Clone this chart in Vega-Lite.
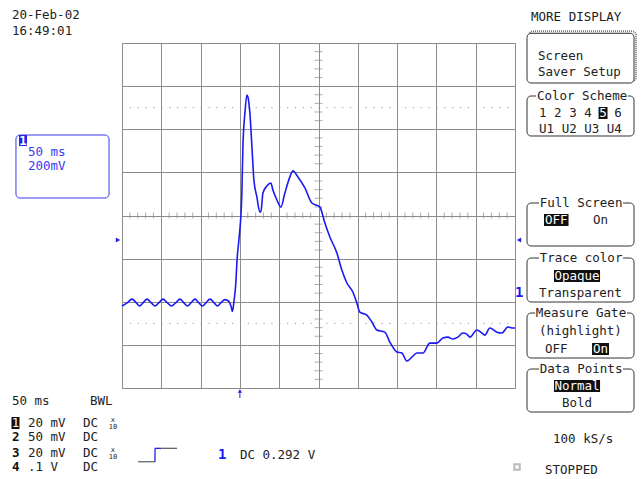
{
  "$schema": "https://vega.github.io/schema/vega-lite/v6.json",
  "width": 393,
  "height": 345,
  "autosize": {"type": "none"},
  "padding": {"left": 122, "top": 43, "right": 126, "bottom": 91},
  "background": "white",
  "config": {
    "view": {"stroke": null},
    "text": {"font": "DejaVu Sans Mono", "fontSize": 12.5, "fill": "#222", "baseline": "middle"}
  },
  "datasets": {
    "trace": [
      {"x": -150, "y": -420}, {"x": -143, "y": -404}, {"x": -137.3, "y": -388}, {"x": -132, "y": -404},
      {"x": -127.7, "y": -420}, {"x": -123, "y": -404}, {"x": -118.2, "y": -388}, {"x": -113, "y": -404},
      {"x": -108, "y": -420}, {"x": -103, "y": -404}, {"x": -97.8, "y": -388}, {"x": -92.5, "y": -404},
      {"x": -87, "y": -420}, {"x": -81.5, "y": -404}, {"x": -76.2, "y": -388}, {"x": -71.5, "y": -404},
      {"x": -66.6, "y": -420}, {"x": -62, "y": -404}, {"x": -57.1, "y": -388}, {"x": -52.5, "y": -404},
      {"x": -47.5, "y": -420}, {"x": -43, "y": -404}, {"x": -38, "y": -388}, {"x": -33, "y": -404},
      {"x": -28.5, "y": -420}, {"x": -24, "y": -404}, {"x": -19, "y": -390}, {"x": -14, "y": -398},
      {"x": -11, "y": -425}, {"x": -9.5, "y": -445}, {"x": -7.6, "y": -400}, {"x": -5.1, "y": -309},
      {"x": -3.8, "y": -216}, {"x": -1.3, "y": -114}, {"x": 1.3, "y": 2}, {"x": 2.5, "y": 104},
      {"x": 3.8, "y": 318}, {"x": 6.4, "y": 476}, {"x": 8.9, "y": 559}, {"x": 10.2, "y": 550},
      {"x": 12.7, "y": 476}, {"x": 15.3, "y": 318}, {"x": 17.8, "y": 165}, {"x": 21.6, "y": 86},
      {"x": 25.4, "y": 16}, {"x": 26.7, "y": 16}, {"x": 29.3, "y": 104}, {"x": 34.3, "y": 137},
      {"x": 39.4, "y": 151}, {"x": 42, "y": 118}, {"x": 47.1, "y": 72}, {"x": 52.2, "y": 39},
      {"x": 57.2, "y": 104}, {"x": 63.6, "y": 179}, {"x": 67.4, "y": 207}, {"x": 73.8, "y": 179},
      {"x": 82.7, "y": 128}, {"x": 91.6, "y": 58}, {"x": 101.8, "y": 39}, {"x": 108.1, "y": -35},
      {"x": 114.5, "y": -100}, {"x": 123.4, "y": -174}, {"x": 129.7, "y": -253}, {"x": 136.1, "y": -313},
      {"x": 143.7, "y": -355}, {"x": 148.8, "y": -406}, {"x": 152.6, "y": -448}, {"x": 161.5, "y": -462},
      {"x": 167.9, "y": -494}, {"x": 174.3, "y": -531}, {"x": 184.4, "y": -541}, {"x": 190.8, "y": -587},
      {"x": 199.7, "y": -633}, {"x": 206.1, "y": -638}, {"x": 212.4, "y": -675}, {"x": 218.8, "y": -657},
      {"x": 225.1, "y": -638}, {"x": 232.8, "y": -638}, {"x": 241.7, "y": -592}, {"x": 250.6, "y": -592},
      {"x": 258.2, "y": -568}, {"x": 264.6, "y": -564}, {"x": 270.9, "y": -573}, {"x": 277.3, "y": -564},
      {"x": 283.7, "y": -545}, {"x": 288.7, "y": -550}, {"x": 292.6, "y": -564}, {"x": 301.5, "y": -531},
      {"x": 307.8, "y": -545}, {"x": 311.6, "y": -555}, {"x": 318, "y": -522}, {"x": 326.9, "y": -541},
      {"x": 333.3, "y": -545}, {"x": 340.9, "y": -517}, {"x": 347.3, "y": -522}, {"x": 350, "y": -522}
    ],
    "ticksX": [
      {"x": -140, "y": 0}, {"x": -130, "y": 0}, {"x": -120, "y": 0}, {"x": -110, "y": 0},
      {"x": -90, "y": 0}, {"x": -80, "y": 0}, {"x": -70, "y": 0}, {"x": -60, "y": 0},
      {"x": -40, "y": 0}, {"x": -30, "y": 0}, {"x": -20, "y": 0}, {"x": -10, "y": 0},
      {"x": 10, "y": 0}, {"x": 20, "y": 0}, {"x": 30, "y": 0}, {"x": 40, "y": 0},
      {"x": 60, "y": 0}, {"x": 70, "y": 0}, {"x": 80, "y": 0}, {"x": 90, "y": 0},
      {"x": 110, "y": 0}, {"x": 120, "y": 0}, {"x": 130, "y": 0}, {"x": 140, "y": 0},
      {"x": 160, "y": 0}, {"x": 170, "y": 0}, {"x": 180, "y": 0}, {"x": 190, "y": 0},
      {"x": 210, "y": 0}, {"x": 220, "y": 0}, {"x": 230, "y": 0}, {"x": 240, "y": 0},
      {"x": 260, "y": 0}, {"x": 270, "y": 0}, {"x": 280, "y": 0}, {"x": 290, "y": 0},
      {"x": 310, "y": 0}, {"x": 320, "y": 0}, {"x": 330, "y": 0}, {"x": 340, "y": 0}
    ],
    "ticksY": [
      {"x": 100, "y": -760}, {"x": 100, "y": -720}, {"x": 100, "y": -680}, {"x": 100, "y": -640},
      {"x": 100, "y": -560}, {"x": 100, "y": -520}, {"x": 100, "y": -480}, {"x": 100, "y": -440},
      {"x": 100, "y": -360}, {"x": 100, "y": -320}, {"x": 100, "y": -280}, {"x": 100, "y": -240},
      {"x": 100, "y": -160}, {"x": 100, "y": -120}, {"x": 100, "y": -80}, {"x": 100, "y": -40},
      {"x": 100, "y": 40}, {"x": 100, "y": 80}, {"x": 100, "y": 120}, {"x": 100, "y": 160},
      {"x": 100, "y": 240}, {"x": 100, "y": 280}, {"x": 100, "y": 320}, {"x": 100, "y": 360},
      {"x": 100, "y": 440}, {"x": 100, "y": 480}, {"x": 100, "y": 520}, {"x": 100, "y": 560},
      {"x": 100, "y": 640}, {"x": 100, "y": 680}, {"x": 100, "y": 720}, {"x": 100, "y": 760}
    ],
    "dotted": [
      {"x": -150, "x2": 350, "y": 500},
      {"x": -150, "x2": 350, "y": -500}
    ],
    "shadow": [{"x": 367.8, "x2": 503.9, "y": 854.3, "y2": 623.8}],
    "boxes": [
      {"x": 365.3, "x2": 501.4, "y": 845, "y2": 614.5},
      {"x": 365.3, "x2": 501.4, "y": 554.2, "y2": 368.7},
      {"x": 365.3, "x2": 501.4, "y": 57.9, "y2": -141.5},
      {"x": 365.3, "x2": 501.4, "y": -197.2, "y2": -401.2},
      {"x": 365.3, "x2": 501.4, "y": -452.3, "y2": -661.0},
      {"x": 365.3, "x2": 501.4, "y": -712.0, "y2": -911.4}
    ],
    "lblBg": [
      {"x": 376.7, "x2": 493.8, "y": 568, "y2": 540},
      {"x": 380.6, "x2": 487.4, "y": 72, "y2": 44},
      {"x": 380.6, "x2": 487.4, "y": -183, "y2": -211},
      {"x": 375.5, "x2": 492.5, "y": -438, "y2": -466},
      {"x": 380.6, "x2": 487.4, "y": -698, "y2": -726}
    ],
    "chBox": [{"x": -284.9, "x2": -166.5, "y": 373.3, "y2": 81.1}],
    "blueBg": [{"x": -281.0, "x2": -270.9, "y": 373.3, "y2": 322.3}],
    "invBg": [
      {"x": 456.3, "x2": 467.7, "y": 503.2, "y2": 447.5},
      {"x": 386.9, "x2": 418.1, "y": 6.9, "y2": -48.8},
      {"x": 399.6, "x2": 458.2, "y": -252.8, "y2": -308.5},
      {"x": 448.0, "x2": 469.6, "y": -591.4, "y2": -647.1},
      {"x": 399.6, "x2": 458.2, "y": -763.0, "y2": -818.7},
      {"x": -290.6, "x2": -280.4, "y": -934.6, "y2": -990.3}
    ],
    "invTxt": [
      {"x": 462.0, "y": 475.3, "text": "5"},
      {"x": 402.6, "y": -20.9, "text": "OFF"},
      {"x": 428.9, "y": -280.7, "text": "Opaque"},
      {"x": 458.8, "y": -619.2, "text": "On"},
      {"x": 428.9, "y": -790.8, "text": "Normal"},
      {"x": -285.5, "y": -962.4, "text": "1"}
    ],
    "lbl": [
      {"x": 435.3, "y": 554.2, "text": "Color Scheme"},
      {"x": 434.0, "y": 57.9, "text": "Full Screen"},
      {"x": 434.0, "y": -197.2, "text": "Trace color"},
      {"x": 434.0, "y": -452.3, "text": "Measure Gate"},
      {"x": 434.0, "y": -712.0, "text": "Data Points"}
    ],
    "txtL": [
      {"x": -290, "y": 929.9, "text": "20-Feb-02"},
      {"x": -290, "y": 855.7, "text": "16:49:01"},
      {"x": 370.4, "y": 920.6, "text": "MORE DISPLAY"},
      {"x": 379.3, "y": 739.7, "text": "Screen"},
      {"x": 379.3, "y": 665.5, "text": "Saver Setup"},
      {"x": 380.6, "y": 475.3, "text": "1 2 3 4"},
      {"x": 476.4, "y": 475.3, "text": "6"},
      {"x": 380.6, "y": 401.1, "text": "U1 U2 U3 U4"},
      {"x": 449.3, "y": -20.9, "text": "On"},
      {"x": 388.2, "y": -619.2, "text": "OFF"},
      {"x": 398.4, "y": -1036.6, "text": "100 kS/s"},
      {"x": 388.2, "y": -1180.4, "text": "STOPPED"},
      {"x": -290, "y": -860.4, "text": "50 ms"},
      {"x": -190.7, "y": -860.4, "text": "BWL"},
      {"x": -269.6, "y": -962.4, "text": "20 mV"},
      {"x": -269.6, "y": -1027.4, "text": "50 mV"},
      {"x": -269.6, "y": -1101.6, "text": "20 mV"},
      {"x": -269.6, "y": -1166.5, "text": ".1  V"},
      {"x": -199.6, "y": -962.4, "text": "DC"},
      {"x": -199.6, "y": -1027.4, "text": "DC"},
      {"x": -199.6, "y": -1101.6, "text": "DC"},
      {"x": -199.6, "y": -1166.5, "text": "DC"},
      {"x": 0, "y": -1110.9, "text": "DC 0.292 V"}
    ],
    "txtC": [
      {"x": 433.3, "y": -359.5, "text": "Transparent"},
      {"x": 433.3, "y": -535.7, "text": "(highlight)"},
      {"x": 428.9, "y": -869.7, "text": "Bold"}
    ],
    "txtBold": [
      {"x": -290, "y": -1027.4, "text": "2"},
      {"x": -290, "y": -1101.6, "text": "3"},
      {"x": -290, "y": -1166.5, "text": "4"}
    ],
    "tiny": [
      {"x": -161.5, "y": -946.2, "text": "x"},
      {"x": -161.5, "y": -981.0, "text": "10"},
      {"x": -161.5, "y": -1085.3, "text": "x"},
      {"x": -161.5, "y": -1120.1, "text": "10"}
    ],
    "blueTxt": [
      {"x": -269.6, "y": 294.5, "text": "50 ms"},
      {"x": -269.6, "y": 229.5, "text": "200mV"}
    ],
    "blueBold": [
      {"x": -27.9, "y": -1110.9, "text": "1"},
      {"x": 350, "y": -359.5, "text": "1"}
    ],
    "blueWhite": [{"x": -276, "y": 347.8, "text": "1"}],
    "triR": [{"x": -155.1, "y": -113.7}],
    "triL": [{"x": 355.1, "y": -113.7}],
    "trigArrow": [{"x": 0, "y": -846.5, "y2": -812}],
    "trigHead": [{"x": 0, "y": -814}],
    "stepGray": [
      {"x": -129.6, "x2": -108.0, "y": -1142.0, "y2": -1142.0},
      {"x": -100.0, "x2": -80.0, "y": -1079.8, "y2": -1079.8}
    ],
    "stepBlue": [
      {"x": -108.0, "x2": -108.0, "y": -1142.0, "y2": -1079.8},
      {"x": -108.0, "x2": -100.0, "y": -1079.8, "y2": -1079.8}
    ],
    "square": [{"x": 352.6, "y": -1166.5}]
  },
  "encoding": {
    "x": {
      "field": "x", "type": "quantitative",
      "scale": {"domain": [-150, 350], "nice": false, "zero": false},
      "axis": {"values": [-150, -100, -50, 0, 50, 100, 150, 200, 250, 300, 350], "grid": true, "gridColor": "#8c8c8c", "labels": false, "ticks": false, "domain": false, "title": null}
    },
    "y": {
      "field": "y", "type": "quantitative",
      "scale": {"domain": [-800, 800], "nice": false, "zero": false},
      "axis": {"values": [-800, -600, -400, -200, 0, 200, 400, 600, 800], "grid": true, "gridColor": "#8c8c8c", "labels": false, "ticks": false, "domain": false, "title": null}
    }
  },
  "layer": [
    {"data": {"name": "dotted"}, "mark": {"type": "rule", "color": "#999", "strokeDash": [1.2, 6.66]}, "encoding": {"x2": {"field": "x2"}}},
    {"data": {"name": "ticksX"}, "mark": {"type": "tick", "orient": "vertical", "size": 6, "thickness": 1, "color": "#8c8c8c"}},
    {"data": {"name": "ticksY"}, "mark": {"type": "tick", "orient": "horizontal", "size": 8, "thickness": 1, "color": "#8c8c8c"}},
    {"data": {"name": "trace"}, "mark": {"type": "line", "color": "#1a1af5", "strokeWidth": 1.6, "interpolate": "monotone"}},
    {"data": {"name": "shadow"}, "mark": {"type": "rect", "fillOpacity": 0, "stroke": "#777", "strokeWidth": 2, "strokeDash": [1, 1], "cornerRadius": 4}, "encoding": {"x2": {"field": "x2"}, "y2": {"field": "y2"}}},
    {"data": {"name": "boxes"}, "mark": {"type": "rect", "fill": "white", "stroke": "#333", "strokeWidth": 1, "cornerRadius": 4}, "encoding": {"x2": {"field": "x2"}, "y2": {"field": "y2"}}},
    {"data": {"name": "lblBg"}, "mark": {"type": "rect", "fill": "white"}, "encoding": {"x2": {"field": "x2"}, "y2": {"field": "y2"}}},
    {"data": {"name": "chBox"}, "mark": {"type": "rect", "fillOpacity": 0, "stroke": "#3a3af0", "strokeWidth": 1, "cornerRadius": 4}, "encoding": {"x2": {"field": "x2"}, "y2": {"field": "y2"}}},
    {"data": {"name": "blueBg"}, "mark": {"type": "rect", "fill": "#2222e8"}, "encoding": {"x2": {"field": "x2"}, "y2": {"field": "y2"}}},
    {"data": {"name": "invBg"}, "mark": {"type": "rect", "fill": "#111"}, "encoding": {"x2": {"field": "x2"}, "y2": {"field": "y2"}}},
    {"data": {"name": "lbl"}, "mark": {"type": "text", "align": "center"}, "encoding": {"text": {"field": "text"}}},
    {"data": {"name": "txtL"}, "mark": {"type": "text", "align": "left"}, "encoding": {"text": {"field": "text"}}},
    {"data": {"name": "txtC"}, "mark": {"type": "text", "align": "center"}, "encoding": {"text": {"field": "text"}}},
    {"data": {"name": "txtBold"}, "mark": {"type": "text", "align": "left", "fontWeight": "bold", "fill": "#111"}, "encoding": {"text": {"field": "text"}}},
    {"data": {"name": "tiny"}, "mark": {"type": "text", "align": "center", "fontSize": 7}, "encoding": {"text": {"field": "text"}}},
    {"data": {"name": "invTxt"}, "mark": {"type": "text", "align": "center", "fill": "white"}, "encoding": {"text": {"field": "text"}}},
    {"data": {"name": "blueTxt"}, "mark": {"type": "text", "align": "left", "fill": "#3a3af0"}, "encoding": {"text": {"field": "text"}}},
    {"data": {"name": "blueBold"}, "mark": {"type": "text", "align": "left", "fill": "#1a1af5", "fontWeight": "bold", "fontSize": 14}, "encoding": {"text": {"field": "text"}}},
    {"data": {"name": "blueWhite"}, "mark": {"type": "text", "align": "center", "fill": "white", "fontWeight": "bold"}, "encoding": {"text": {"field": "text"}}},
    {"data": {"name": "triR"}, "mark": {"type": "point", "shape": "triangle-right", "filled": true, "color": "#2222e8", "size": 25, "opacity": 1}},
    {"data": {"name": "triL"}, "mark": {"type": "point", "shape": "triangle-left", "filled": true, "color": "#2222e8", "size": 25, "opacity": 1}},
    {"data": {"name": "trigArrow"}, "mark": {"type": "rule", "color": "#2222e8", "strokeWidth": 1}, "encoding": {"y2": {"field": "y2"}}},
    {"data": {"name": "trigHead"}, "mark": {"type": "point", "shape": "triangle-up", "filled": true, "color": "#2222e8", "size": 18, "opacity": 1}},
    {"data": {"name": "stepGray"}, "mark": {"type": "rule", "color": "#666", "strokeWidth": 1.3}, "encoding": {"x2": {"field": "x2"}, "y2": {"field": "y2"}}},
    {"data": {"name": "stepBlue"}, "mark": {"type": "rule", "color": "#2222e8", "strokeWidth": 1.3}, "encoding": {"x2": {"field": "x2"}, "y2": {"field": "y2"}}},
    {"data": {"name": "square"}, "mark": {"type": "point", "shape": "square", "filled": false, "color": "#bbb", "size": 30, "opacity": 1}}
  ]
}
